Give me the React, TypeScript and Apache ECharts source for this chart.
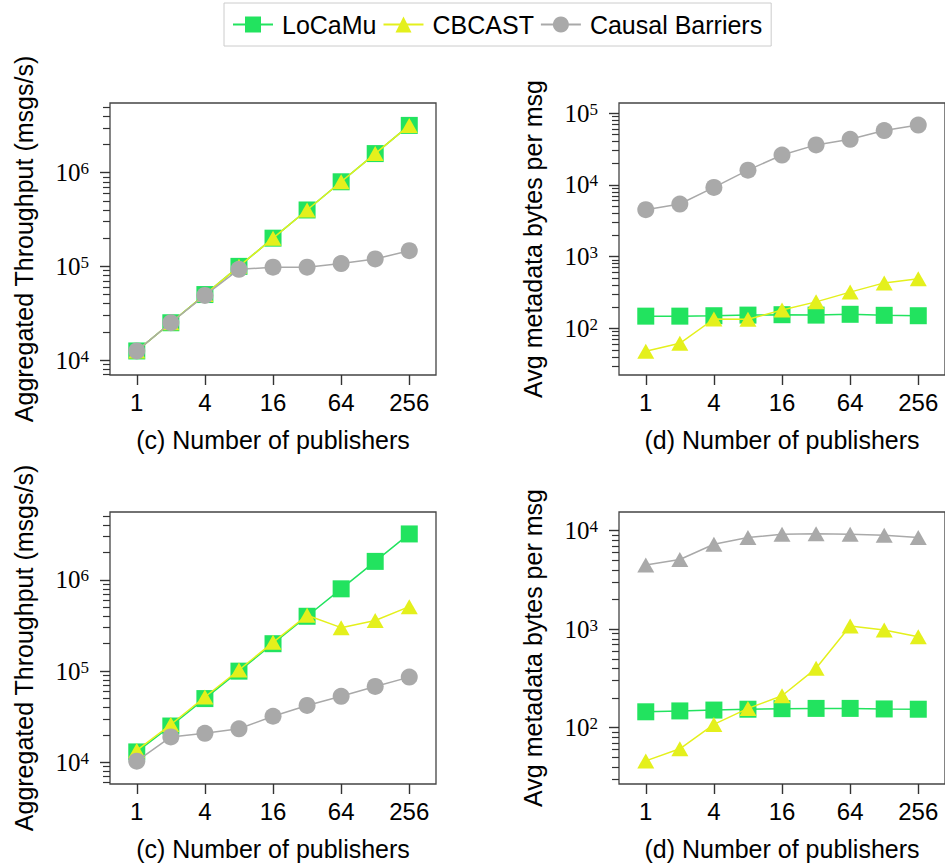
import React, { useEffect, useRef } from "react";
import * as echarts from "echarts";

// ---- data ----
const publishers = [1, 2, 4, 8, 16, 32, 64, 128, 256];
const xTickValues = [1, 4, 16, 64, 256];
const seriesNames = ["LoCaMu", "CBCAST", "Causal Barriers"];

// top-left: (c) aggregated throughput
const thrTopLoCaMu = [1.25e4, 2.5e4, 5e4, 1e5, 2e5, 4e5, 8e5, 1.6e6, 3.2e6];
const thrTopCBCAST = [1.25e4, 2.5e4, 5e4, 1e5, 2e5, 4e5, 8e5, 1.6e6, 3.2e6];
const thrTopCausal = [1.25e4, 2.5e4, 4.9e4, 9.3e4, 9.8e4, 9.8e4, 1.07e5, 1.2e5, 1.47e5];
// top-right: (d) metadata bytes
const metaTopLoCaMu = [148, 148, 150, 153, 155, 153, 157, 152, 150];
const metaTopCBCAST = [48, 62, 135, 134, 180, 234, 320, 430, 490];
const metaTopCausal = [4500, 5400, 9200, 16000, 26000, 36000, 43000, 57000, 68000];
// bottom-left: (c) aggregated throughput
const thrBotLoCaMu = [1.3e4, 2.5e4, 5e4, 1e5, 2e5, 4e5, 8e5, 1.6e6, 3.2e6];
const thrBotCBCAST = [1.35e4, 2.6e4, 5.2e4, 1.03e5, 2.07e5, 4.1e5, 3e5, 3.6e5, 5.1e5];
const thrBotCausal = [1.03e4, 1.9e4, 2.08e4, 2.33e4, 3.2e4, 4.2e4, 5.3e4, 6.8e4, 8.6e4];
// bottom-right: (d) metadata bytes
const metaBotLoCaMu = [145, 148, 151, 154, 156, 157, 157, 155, 154];
const metaBotCBCAST = [46, 61, 108, 157, 211, 401, 1077, 982, 840];
const metaBotCausal = [4500, 5100, 7300, 8550, 9200, 9300, 9200, 9000, 8550];

// y-axis major ticks per panel
const majorThr = [1e4, 1e5, 1e6];
const majorMetaTop = [1e2, 1e3, 1e4, 1e5];
const majorMetaBot = [1e2, 1e3, 1e4];
const minorMultipliers = [2, 3, 4, 5, 6, 7, 8, 9];

// ---- styling ----
const GREEN = "#22e35f";
const YELLOW = "#e4f01c";
const GRAY = "#a9a9a9";
const FRAME = "#444444";
const TICK = "#333333";
const SANS = "'Liberation Sans', Arial, sans-serif";
const SERIF = "'Liberation Serif', 'DejaVu Serif', serif";

const X_MIN = 0.58;
const X_MAX = 441;

type Panel = {
  left: number;
  top: number;
  yMin: number;
  yMax: number;
  majors: number[];
  xName: string;
  yName: string;
  data: number[][];
  symbols: string[];
};

const panels: Panel[] = [
  {
    left: 110, top: 103, yMin: 6.92e3, yMax: 5.55e6, majors: majorThr,
    xName: "(c) Number of publishers", yName: "Aggregated Throughput (msgs/s)",
    data: [thrTopLoCaMu, thrTopCBCAST, thrTopCausal],
    symbols: ["rect", "triangle", "circle"],
  },
  {
    left: 619, top: 103, yMin: 22.4, yMax: 1.38e5, majors: majorMetaTop,
    xName: "(d) Number of publishers", yName: "Avg metadata bytes per msg",
    data: [metaTopLoCaMu, metaTopCBCAST, metaTopCausal],
    symbols: ["rect", "triangle", "circle"],
  },
  {
    left: 110, top: 512, yMin: 5.78e3, yMax: 5.57e6, majors: majorThr,
    xName: "(c) Number of publishers", yName: "Aggregated Throughput (msgs/s)",
    data: [thrBotLoCaMu, thrBotCBCAST, thrBotCausal],
    symbols: ["rect", "triangle", "circle"],
  },
  {
    left: 619, top: 512, yMin: 26.8, yMax: 1.55e4, majors: majorMetaBot,
    xName: "(d) Number of publishers", yName: "Avg metadata bytes per msg",
    data: [metaBotLoCaMu, metaBotCBCAST, metaBotCausal],
    symbols: ["rect", "triangle", "triangle"],
  },
];

const colors = [GREEN, YELLOW, GRAY];

function minorTicks(min: number, max: number): number[] {
  const out: number[] = [];
  const k0 = Math.floor(Math.log10(min));
  const k1 = Math.ceil(Math.log10(max));
  for (let k = k0; k <= k1; k++) {
    for (const m of minorMultipliers) {
      const v = m * Math.pow(10, k);
      if (v >= min && v <= max) out.push(v);
    }
  }
  return out;
}

function symbolSize(sym: string): number | number[] {
  if (sym === "triangle") return [17, 15];
  return 17;
}

function buildOption() {
  const grid: any[] = [];
  const xAxis: any[] = [];
  const yAxis: any[] = [];
  const series: any[] = [];

  panels.forEach((p, i) => {
    grid.push({
      left: p.left,
      top: p.top,
      width: 326,
      height: 272,
      show: true,
      borderColor: FRAME,
      borderWidth: 1.3,
      backgroundColor: "transparent",
    });
    xAxis.push({
      type: "log",
      logBase: 2,
      gridIndex: i,
      min: X_MIN,
      max: X_MAX,
      axisLine: { show: false },
      axisTick: {
        show: true,
        length: 10,
        customValues: xTickValues,
        lineStyle: { color: TICK, width: 1.4 },
      },
      axisLabel: {
        customValues: xTickValues,
        fontSize: 24,
        fontFamily: SANS,
        color: "#000",
        margin: 15,
        formatter: (v: number) => String(Math.round(v)),
      },
      splitLine: { show: false },
      name: p.xName,
      nameLocation: "middle",
      nameGap: 52,
      nameTextStyle: { fontSize: 25, fontFamily: SANS, color: "#000" },
    });
    yAxis.push({
      type: "log",
      gridIndex: i,
      position: "left",
      min: p.yMin,
      max: p.yMax,
      axisLine: { show: false },
      axisTick: {
        show: true,
        length: 10,
        customValues: p.majors,
        lineStyle: { color: TICK, width: 1.4 },
      },
      axisLabel: {
        customValues: p.majors,
        margin: 21,
        formatter: (v: number) => `{a|10}{b|${Math.round(Math.log10(v))}}`,
        rich: {
          a: { fontFamily: SERIF, fontSize: 25, color: "#000" },
          b: { fontFamily: SERIF, fontSize: 17, color: "#000", verticalAlign: "top" },
        },
      },
      splitLine: { show: false },
      name: p.yName,
      nameLocation: "middle",
      nameRotate: 90,
      nameGap: 74,
      nameTextStyle: { fontSize: 25, fontFamily: SANS, color: "#000" },
    });
    yAxis.push({
      type: "log",
      gridIndex: i,
      position: "left",
      min: p.yMin,
      max: p.yMax,
      axisLine: { show: false },
      axisTick: {
        show: true,
        length: 7,
        customValues: minorTicks(p.yMin, p.yMax),
        lineStyle: { color: TICK, width: 1.2 },
      },
      axisLabel: { show: false },
      splitLine: { show: false },
    });

    p.data.forEach((vals, s) => {
      series.push({
        type: "line",
        name: seriesNames[s],
        xAxisIndex: i,
        yAxisIndex: 2 * i,
        data: publishers.map((x, j) => [x, vals[j]]),
        symbol: p.symbols[s],
        symbolSize: symbolSize(p.symbols[s]),
        showSymbol: true,
        lineStyle: { color: colors[s], width: 1.5 },
        itemStyle: { color: colors[s] },
        z: 2 + s,
      });
    });
  });

  return {
    animation: false,
    backgroundColor: "#ffffff",
    legend: {
      data: seriesNames,
      top: 3,
      left: 224,
      orient: "horizontal",
      itemWidth: 40,
      itemHeight: 20,
      itemGap: 6,
      padding: [9, 9, 9, 8],
      borderColor: "#cccccc",
      borderWidth: 1,
      textStyle: { fontSize: 25, fontFamily: SANS, color: "#000", padding: [0, 0, 0, 4] },
    },
    grid,
    xAxis,
    yAxis,
    series,
  };
}

export default function App() {
  const ref = useRef<HTMLDivElement>(null);
  useEffect(() => {
    if (!ref.current) return;
    const chart = echarts.init(ref.current, null, { renderer: "svg" });
    chart.setOption(buildOption() as any);
    return () => chart.dispose();
  }, []);
  return (
    <div
      ref={ref}
      style={{ position: "absolute", left: 0, top: 0, width: 945, height: 867, background: "#fff" }}
    />
  );
}
